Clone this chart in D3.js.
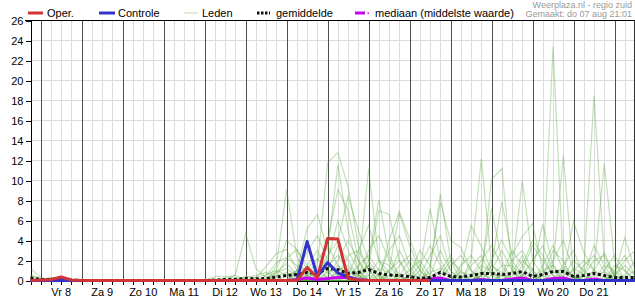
<!DOCTYPE html>
<html><head><meta charset="utf-8">
<script src="https://cdn.jsdelivr.net/npm/d3@7"></script>
<style>body{margin:0;background:#fff}svg{display:block;font-family:"Liberation Sans",Arial,sans-serif}</style>
</head><body><svg id="c" width="635" height="300"></svg>
<script>
// ---- data ----
const startTime = new Date(2025, 7, 7, 18, 0); // do 07 aug 18:00, 6-hourly steps
const stepHours = 6;
const dayLabels = ["Vr 8","Za 9","Zo 10","Ma 11","Di 12","Wo 13","Do 14","Vr 15","Za 16","Zo 17","Ma 18","Di 19","Wo 20","Do 21"];
const yTicks = [0,2,4,6,8,10,12,14,16,18,20,22,24,26];
const legendLabels = ["Oper.","Controle","Leden","gemiddelde","mediaan (middelste waarde)"];
const titleText = "Weerplaza.nl - regio zuid";
const madeText = "Gemaakt: do 07 aug 21:01";

const oper = [0,0.05,0.1,0.35,0.05,0,0,0,0,0, 0,0,0,0,0,0,0,0,0,0, 0,0,0,0,0,0,0,1.3,0.3,4.2, 4.15,0.2,0.05,0,0,0,0,0,0,0];
const controle = [0,0,0,0,0,0,0,0,0,0, 0,0,0,0,0,0,0,0,0,0, 0,0,0,0,0,0,0,3.9,0.4,1.8, 0.75,0.35,0.05,0,0,0,0,0,0,0, 0,0,0,0,0,0,0,0,0,0, 0,0,0,0,0,0,0,0,0,0];
const gemiddelde = [0.25,0.1,0.1,0.1,0.05,0,0,0,0,0, 0,0,0,0,0,0,0,0,0.05,0.1, 0.1,0.2,0.15,0.2,0.35,0.5,0.6,0.8,0.7,1.2, 1.1,0.7,0.8,1.1,0.7,0.55,0.5,0.4,0.2,0.3, 0.8,0.4,0.35,0.5,0.7,0.7,0.6,0.7,0.9,0.4, 0.6,0.9,0.9,0.4,0.5,0.7,0.5,0.3,0.3,0.3];
const mediaan = [0,0,0,0,0,0,0,0,0,0, 0,0,0,0,0,0,0,0,0,0, 0,0,0,0,0,0,0.1,0.25,0.1,0.2, 0.3,0.3,0.1,0,0,0,0,0,0,0.15, 0.25,0,0,0,0.1,0,0,0.15,0.25,0, 0,0.2,0.25,0,0,0.15,0,0,0,0];

const leden = [
 [1.2,0.3,0.1,0,0,0,0,0,0,0, 0,0,0,0,0,0,0,0,0,0, 0,0,0,0,1.5,9.1,2.4,0.5,0,0, 0,0,0,0,0,0,0,0,0,1.0, 8.7,2.0,0,0,0,0,0,0,0,0, 0.5,23.4,1.5,0.4,0,0,0,0,0,0],
 [0.6,0.2,0,0,0,0,0,0,0,0, 0,0,0,0,0,0,0,0,0,0, 0,0,0,0,0,0,0,0,1.5,11.8, 12.8,9.4,3.5,1.0,0,0,0,0,0,0, 0,0,0,0,0.8,0,0,0,0,0, 0,0,0,0,1.0,18.5,2.0,0.5,0,0],
 [0.4,0,0.3,0.2,0,0,0,0,0,0, 0,0,0,0,0,0,0,0,0,0, 0.6,4.7,1.2,0.3,0,0,0,0,0,0, 0,0,1.0,11.2,2.0,0.8,0,0,0,0, 0,0,0,0,0,0,0,0,0,0, 0,1.5,12.5,0.5,0,0,0,0,0,0],
 [0,0,0,0,0,0,0,0,0,0, 0,0,0,0,0,0,0,0,0,0, 0,0,0,0,0,0,1.0,5.2,6.6,3.0, 11.6,5.0,1.0,0,0,0,0,0,0,0, 0,0,0,2.0,12.2,1.5,0.5,0,0,0, 0,0,0,0,0,0,0,0,0,0],
 [0,0,0,0,0,0,0,0,0,0, 0,0,0,0,0,0,0,0,0,0, 0,0,0,0,0,0,0,0,0,4.0, 9.1,7.0,2.0,0,0,0,0,0,0,0, 0,0,0,0,0.5,10.1,11.2,1.0,0,0, 0,0,0,0,0,0,0,0,0,0],
 [0,0,0,0,0,0,0,0,0,0, 0,0,0,0,0,0,0,0,0,0, 0,0,0,0,1.0,4.0,3.1,1.0,0,0, 0,0,0,2.0,8.1,2.5,0.5,0,0,0, 0,0,0,0,0,0,0,0,0,0, 0,0,0,0,0,1.0,11.7,2.0,0,0],
 [0,0,0,0,0,0,0,0,0,0, 0,0,0,0,0,0,0,0,0,0, 0,0,0,0,0,0,0,0,0,0, 0,0,0,1.5,7.0,6.6,2.0,0,0,0, 0,0,0,0,0,0,0,1.0,10.0,2.0, 0.5,0,0,0,0,0,0,0,0,0],
 [0,0,0,0,0,0,0,0,0,0, 0,0,0,0,0,0,0,0,0,0, 0,0,0,0,0,0,0,0,0,0, 0,0,0,0,0,4.0,6.9,4.2,1.5,0, 0,0,0,0,1.0,7.2,2.0,0,0,0, 0,0,0,0,0,0,0,0,0,0],
 [0,0,0,0,0,0,0,0,0,0, 0,0,0,0,0,0,0,0,0,0, 0,0,0,0,0,0,0,0,0,0, 0,0,0,0,0,1.0,6.7,3.5,1.0,0, 0,0,0,0,0,1.5,7.9,2.5,4.4,5.7, 1.0,0,0,0,0,0,0,0,0,0],
 [0,0,0,0,0,0,0,0,0,0, 0,0,0,0,0,0,0,0,0,0, 0,0,0,0,0,0,0,0,0,0, 0,0,0,0,0,0,0,0,1.0,7.2, 2.0,0.5,0,0,0,0,0,0,0,1.0, 5.6,1.5,0,0,0,0,0,0.5,4.3,1.0],
 [0,0,0,0,0,0,0,0,0,0, 0,0,0,0,0,0,0,0,0,0, 0,0,0,0,0,0,0,0,0,0, 0,0,0,0,0,0,0,0,0,1.5, 7.8,4.0,3.3,1.0,0,0,0,0,0,0, 0,0,0.5,5.9,2.8,1.0,0,0,0,0],
 [0,0,0,0,0,0,0,0,0,0, 0,0,0,0,0,0,0,0,0,0, 0,0,0.3,1.4,2.7,3.1,1.0,0,0,0, 0,0,0,0,0,0,0,0,0,0, 0,0,1.0,5.5,3.4,1.0,0,0,0,0, 0,0,0,0,0,1.0,2.8,0.5,0,0],
 [0,0,0,0,0,0,0,0,0,0, 0,0,0,0,0,0,0,0,0,0, 0,0,0,0,0,0,1.0,2.8,4.5,2.0, 6.0,3.0,1.0,0,0,0,0,0.5,3.0,1.5, 0,0,0,0,0,0,0.5,2.0,3.0,1.0, 0,0,0,0,0,0,0,0,0,0],
 [0,0,0,0,0,0,0,0,0,0, 0,0,0,0,0,0,0,0,0,0, 0,0,0,0,0,0,0,0,0.5,2.5, 4.0,8.4,5.0,2.0,0.5,0,0,0,0,0, 0,1.5,2.5,1.0,0,0,0,0,0,0, 0.5,3.0,2.0,0,0,0,0,0,0,0],
 [0,0,0,0,0,0,0,0,0,0, 0,0,0,0,0,0,0,0,0,0, 0,0,0,0,0.8,1.2,0.5,0,0,0, 0,0.5,3.0,5.5,2.0,0,0,0,0,0, 0,0,0,0.5,2.0,3.5,1.5,0,0,0, 0,0,0,0,1.5,2.5,1.0,0,0,0],
 [0,0,0,0,0,0,0,0,0,0, 0,0,0,0,0,0,0,0,0,0, 0,0.3,0.5,0.8,0.3,0,0,0,0,1.0, 3.5,2.0,0.5,0,0,0,1.5,2.5,1.0,0, 0,0,0,0,0,0,0,0,1.0,3.5, 2.0,0.5,0,0,0,0,0,0.5,2.0,3.0],
 [0,0,0,0,0,0,0,0,0,0, 0,0,0,0,0,0,0,0,0,0, 0,0,0,0,0,0,0.3,1.5,3.0,1.0, 0,0,0,0,0.5,3.0,4.5,1.5,0,0, 0,0,0,0,0,1.0,3.0,1.0,0,0, 0,0,1.5,3.0,0.5,0,0,0,0,0],
 [0,0,0,0,0,0,0,0,0,0, 0,0,0,0,0,0,0,0,0.4,0.4, 0.3,0,0,0,0,0,0,0,0,0.5, 2.0,4.0,2.0,0.5,0,0,0,0,0,0.5, 3.0,1.0,0,0,0,0,0,0,1.5,4.0, 2.5,0.5,0,0,0,0,0,1.5,1.0,0],
 [0,0,0,0,0,0,0,0,0,0, 0,0,0,0,0,0,0,0,0,0, 0,0,0,0,0.5,2.2,3.1,1.5,0.3,0, 0,0,0.5,3.0,4.5,2.0,0.5,0,0,0, 0,0,0,1.5,2.5,0.5,0,0,0,0, 0,0,0,0,0.5,3.5,1.5,0,0.3,1.0],
 [0,0,0,0,0,0,0,0,0,0, 0,0,0,0,0,0,0,0,0,0, 0,0,0,0,0,0,0,0.5,2.0,3.5, 1.5,0.3,0,0,0,0,0.5,2.0,0.5,0, 0,0,0,0,0.5,2.0,4.0,2.0,0.5,0, 1.5,3.5,1.0,0,0,0,0,0,0,0],
 [0,0,0,0,0,0,0,0,0,0, 0,0,0,0,0,0,0,0,0,0, 0,0,0.3,0.6,1.0,0.5,0,0,0,0, 0,0.3,1.5,2.5,1.0,0,0,0,0,0, 0.5,2.0,1.0,0,0,0,0,0,0,0, 0,0,0.3,2.0,1.0,0,0,0.5,1.5,0.5],
 [0,0,0,0,0,0,0,0,0,0, 0,0,0,0,0,0,0,0,0,0, 0,0,0,0,0,0,0,0,0.3,1.5, 2.5,1.0,0.3,0.5,2.0,1.5,0.3,0,0.5,2.5, 4.5,1.0,0,0,0,0,0,0.5,2.0,1.0, 0,0,0,0,0.5,2.0,2.5,0.5,0,0],
 [0,0,0,0,0,0,0,0,0,0, 0,0,0,0,0,0,0,0,0,0, 0,0,0,0,0,0,0.5,1.2,2.2,0.8, 0,0,0,0,0,0.5,3.0,1.0,0,0, 0,0,0,0.3,1.5,1.0,0,0,0,0, 0.5,2.0,4.0,1.0,0,0,0,0,0,0],
 [0,0,0,0,0,0,0,0,0,0, 0,0,0,0,0,0,0,0,0,0, 0,0,0,0,0,0,0,0,0,0, 1.0,1.5,0.5,0,0,0,0,0.3,1.5,3.5, 1.5,0.3,0,0,0,0,0.5,3.0,1.5,0, 0,0,0,0,0,0,1.0,2.5,1.0,0],
 [0,0,0,0,0,0,0,0,0,0, 0,0,0,0,0,0,0,0,0,0, 0,0,0,0,0.5,0.8,0.3,0,0,0, 0.5,2.5,3.0,1.0,0,0,0,0,0,0, 0,0,1.5,2.5,1.0,0,0,0,0.5,2.0, 3.5,1.0,0,0,0,0,0,0,0.5,2.0],
 [0,0,0,0,0,0,0,0,0,0, 0,0,0,0,0,0,0,0,0,0, 0,0,0,0,0,0,0,0.3,0.8,1.2, 0.5,0,0,0,0,1.0,2.0,0.5,0,0, 0,0,0,0,0,0.5,1.5,1.5,0.3,0, 0,0,0,1.0,2.0,1.0,0.3,0,0,0],
 [0,0,0,0,0,0,0,0,0,0, 0,0,0,0,0,0,0,0,0,0, 0,0,0,0,0,0,0,0.5,1.0,0.3, 0,0,0.5,1.5,0.5,0,0,0,0,0.3, 1.0,2.5,0.5,0,0,0,0,0,0,0.3, 1.0,1.5,0.3,0,0,0,0,1.0,2.5,0.5],
 [0,0,0,0,0,0,0,0,0,0, 0,0,0,0,0,0,0,0,0,0, 0,0,0,0,0,0,0,0,0,0, 0.8,0.5,0,0,0,0,0.3,1.0,2.0,0.5, 0,0,0,0,0.5,1.5,0.8,0,0,0, 0,0,0.8,0.5,0,0,1.5,1.0,0.3,0],
 [0,0.1,0.3,0.2,0,0,0,0,0,0, 0,0,0,0,0,0,0,0,0,0.3, 0.5,0.1,0,0,0,0,0.8,0.5,0,0, 0,0,0.8,1.5,0.3,0,0,0,0,0, 0,0,0,0,0,0,0,0.8,2.5,0.5, 0,0,0,0,0,0,0,0,0,0],
 [0,0,0,0,0,0,0,0,0,0, 0,0,0,0,0,0,0,0,0,0, 0,0,0,0,0,0.5,1.0,0.3,0,0.8, 1.5,0.5,0,0,0,0,0,0,0,0.8, 1.2,0.3,0,0,0,0,0,0,0,0, 0,0.8,1.2,0.3,0,0.5,0.8,0,0,0],
 [0.5,0.2,0,0,0,0,0,0,0,0, 0,0,0,0,0,0,0,0,0,0, 0.2,0.4,0.3,0,0.8,1.7,0.6,0,0,0, 0,1.2,0.5,0,0,0,0,0,0,0, 0,0,0.8,0.6,0,0,0,0,0.6,0, 0,0,0,0,0,0,0,0.8,0,0],
 [0,0,0,0,0,0,0,0,0,0, 0,0,0,0,0,0,0,0,0,0, 0,0,0,0.5,1.8,2.3,1.5,0.8,0,0, 0,0,0,0,1.2,0.8,0,0,0,0, 0,0,0,0,0.4,0.8,0,0,0,0, 0,0,0,1.2,0.6,0,0,0,0,0]
];

// ---- drawing ----
const W = 635, H = 300;
const svg = d3.select("#c");
const tAt = i => d3.timeHour.offset(startTime, i * stepHours);
const endTime = tAt(gemiddelde.length - 1);
const x = d3.scaleTime().domain([startTime, endTime]).range([30.5, 635]);
const y = d3.scaleLinear().domain([0, 26]).range([280.5, 20.5]);

// grid
const grid = svg.append("g").attr("shape-rendering", "crispEdges");
const stepTimes = d3.timeHour.every(6).range(startTime, d3.timeHour.offset(endTime, 1));
grid.selectAll("line.h").data(yTicks.filter(v => v > 0 && v < 26)).join("line")
  .attr("x1", 31).attr("x2", W).attr("y1", d => y(d)).attr("y2", d => y(d))
  .attr("stroke", "#dcdcdc").attr("stroke-width", 1);
grid.selectAll("line.v").data(stepTimes.filter(t => t.getHours() !== 0 && +t > +startTime)).join("line")
  .attr("x1", d => Math.round(x(d)) + 0.5).attr("x2", d => Math.round(x(d)) + 0.5)
  .attr("y1", y(26)).attr("y2", y(0))
  .attr("stroke", "#dcdcdc").attr("stroke-width", 1);
grid.selectAll("line.d").data(stepTimes.filter(t => t.getHours() === 0)).join("line")
  .attr("x1", d => Math.round(x(d)) + 0.5).attr("x2", d => Math.round(x(d)) + 0.5)
  .attr("y1", y(26)).attr("y2", y(0))
  .attr("stroke", "#505050").attr("stroke-width", 1);

// series
const line = d3.line().x((d, i) => x(tAt(i))).y(d => y(d));
const plot = svg.append("g");
plot.selectAll("path.m").data(leden).join("path")
  .attr("d", line).attr("fill", "none")
  .attr("stroke", "rgb(80,165,50)").attr("stroke-opacity", 0.34).attr("stroke-width", 1.2);
plot.append("path").datum(mediaan).attr("d", line).attr("fill", "none")
  .attr("stroke", "#cc00ee").attr("stroke-width", 3);
plot.append("path").datum(gemiddelde).attr("d", line).attr("fill", "none")
  .attr("stroke", "#111").attr("stroke-width", 3).attr("stroke-dasharray", "3,2.5");

// axes
const ax = svg.append("g");
ax.append("g").attr("transform", "translate(30.5,0)")
  .call(d3.axisLeft(y).tickValues(yTicks).tickSize(5).tickSizeOuter(0).tickPadding(2))
  .call(g => g.selectAll("text").attr("font-size", 11).attr("fill", "#000").attr("font-family", '"Liberation Sans",Arial,sans-serif'))
  .call(g => g.selectAll("line,path").attr("stroke", "#000").attr("shape-rendering", "crispEdges"));
ax.append("g").attr("transform", "translate(0,280.5)")
  .call(d3.axisBottom(x).tickValues(stepTimes).tickSize(4).tickSizeOuter(0).tickFormat(""))
  .call(g => g.selectAll("line,path").attr("stroke", "#000").attr("shape-rendering", "crispEdges"));
svg.append("line").attr("x1", 25).attr("x2", W).attr("y1", y(26)).attr("y2", y(26))
  .attr("stroke", "#000").attr("shape-rendering", "crispEdges");
svg.append("line").attr("x1", W - 0.5).attr("x2", W - 0.5).attr("y1", y(26)).attr("y2", y(0))
  .attr("stroke", "#333").attr("shape-rendering", "crispEdges");

const noon = dayLabels.map((l, k) => d3.timeHour.offset(startTime, 18 + 24 * k));
svg.append("g").selectAll("text").data(dayLabels).join("text")
  .attr("x", (d, k) => x(noon[k])).attr("y", 296).attr("text-anchor", "middle")
  .attr("font-size", 11).attr("fill", "#000").text(d => d);

// control and oper on top
plot.raise();
svg.append("path").datum(controle).attr("d", line).attr("fill", "none")
  .attr("stroke", "#3333cc").attr("stroke-width", 3).attr("stroke-linejoin", "round");
svg.append("path").datum(oper).attr("d", line).attr("fill", "none")
  .attr("stroke", "#d03434").attr("stroke-width", 3).attr("stroke-linejoin", "round");

// legend
const lg = svg.append("g").attr("font-size", 11).attr("fill", "#000");
const swatches = [
  {x1: 28, x2: 43, tx: 47, stroke: "#d03434", w: 3, dash: null},
  {x1: 99, x2: 115, tx: 118, stroke: "#3333cc", w: 3, dash: null},
  {x1: 184, x2: 198, tx: 202, stroke: "#b8dcaa", w: 1, dash: null},
  {x1: 257, x2: 270, tx: 276, stroke: "#111", w: 3, dash: "2.5,1.5"},
  {x1: 355, x2: 365, tx: 375, stroke: "#cc00ee", w: 3, dash: null}
];
swatches.forEach((s, k) => {
  lg.append("line").attr("x1", s.x1).attr("x2", s.x2).attr("y1", 13).attr("y2", 13)
    .attr("stroke", s.stroke).attr("stroke-width", s.w).attr("stroke-dasharray", s.dash);
  lg.append("text").attr("x", s.tx).attr("y", 17).text(legendLabels[k]);
});
lg.append("rect").attr("x", 367.5).attr("y", 12.5).attr("width", 1.5).attr("height", 1.5).attr("fill", "#cc00ee");
svg.append("text").attr("x", 632).attr("y", 8).attr("text-anchor", "end").attr("font-size", 9).attr("fill", "#999").text(titleText);
svg.append("text").attr("x", 632).attr("y", 17).attr("text-anchor", "end").attr("font-size", 9).attr("fill", "#999").text(madeText);
</script></body></html>
